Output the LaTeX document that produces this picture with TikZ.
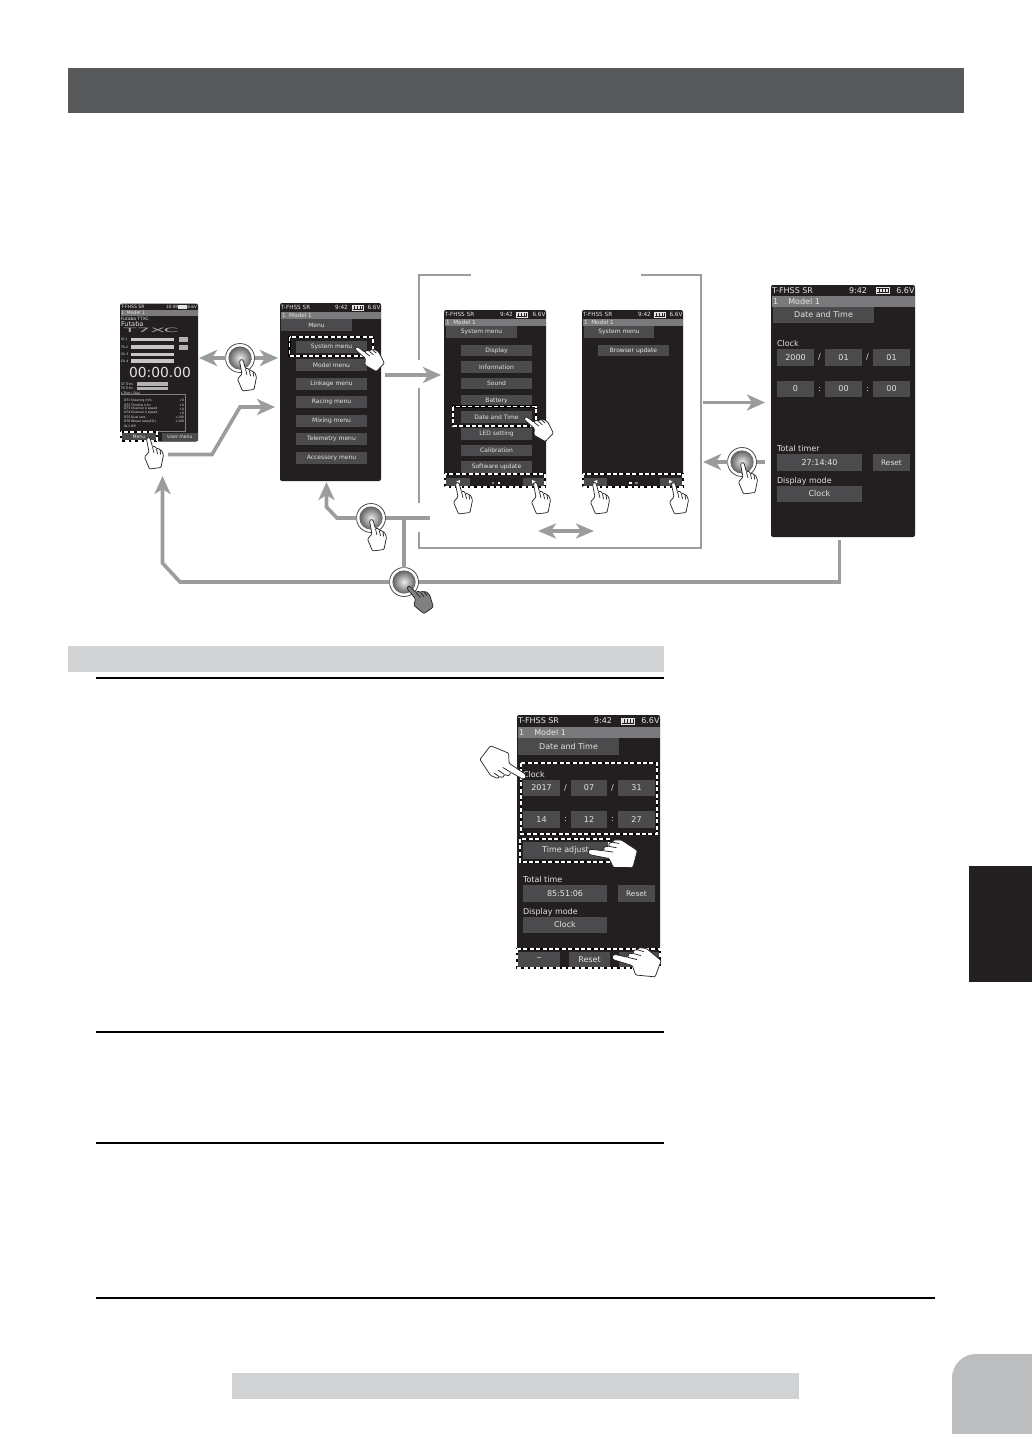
\documentclass[tikz,border=0pt]{standalone}
\usepackage{fontspec}
\setmainfont{DejaVu Sans}
\usetikzlibrary{arrows.meta,calc}
\definecolor{ink}{HTML}{231F20}
\definecolor{barcol}{HTML}{58595B}
\definecolor{light}{HTML}{D1D2D4}
\definecolor{tabgray}{HTML}{BBBDBE}
\definecolor{conn}{HTML}{9B9C9E}
\definecolor{band}{HTML}{7A7A7C}
\definecolor{btncol}{HTML}{4B4B4D}
\definecolor{txt}{HTML}{E4E4E4}
\newcount\autoid
\tikzset{
  x=1pt,y=-1pt,
  screenbox/.style={draw=none,fill=ink,rounded corners=2pt,inner sep=0pt,outer sep=0pt,anchor=north west},
  btnbox/.style={fill=btncol,draw=none,inner sep=0pt,outer sep=0pt,text=txt,align=center},
  lbltext/.style={inner sep=0pt,outer sep=0pt,text=txt},
  thick arrow/.style={draw=conn,line width=3.6pt,-{Stealth[length=18pt,width=16pt,inset=5pt]},line join=miter},
  thick double/.style={draw=conn,line width=3.6pt,{Stealth[length=18pt,width=15pt,inset=5pt]}-{Stealth[length=18pt,width=15pt,inset=5pt]}},
  thick line/.style={draw=conn,line width=3.6pt},
  frame line/.style={draw=conn,line width=1.8pt},
  orbnode/.style={circle,draw=black!70,line width=.8pt,fill=white,minimum size=29pt,inner sep=0pt,outer sep=0pt},
  handline/.style={draw=ink,line width=.7pt,line join=round},
  dash under/.style={draw=black,line width=2.4pt},
  dash over/.style={draw=white,line width=1.7pt,dash pattern=on 4pt off 2.4pt},
}
% auto-named button: x0 y0 x1 y1 size text
\newcommand{\bt}[6]{%
  \global\advance\autoid by 1
  \pgfmathsetmacro{\cxx}{(#1+#3)/2}\pgfmathsetmacro{\cyy}{(#2+#4)/2}%
  \pgfmathsetmacro{\ww}{#3-#1}\pgfmathsetmacro{\hh}{#4-#2}%
  \node[btnbox,minimum width=\ww pt,minimum height=\hh pt,font=\fontsize{#5}{#5}\selectfont] (auto\the\autoid) at (\cxx,\cyy) {#6};}
% auto-named label: x y anchor size text
\newcommand{\lb}[5]{%
  \global\advance\autoid by 1
  \node[lbltext,anchor=#3,font=\fontsize{#4}{#4}\selectfont] (auto\the\autoid) at (#1,#2) {#5};}
\newcommand{\hand}[5]{% tipx tipy rot scale fill
  \begin{scope}[shift={(#1,#2)},rotate=#3,scale=#4]
    \path[handline,fill=#5,rounded corners=1.1pt] (2,0) -- (4.5,9) -- (7,8) -- (8.5,11) -- (10.5,10) -- (12,12.5) -- (13.5,12)
      -- (15.5,17) -- (13,29.5) -- (1.5,31) -- (-3.5,19) -- (1,14) -- (-1.5,1) -- (0,-.8) -- cycle;
    \draw[handline] (4.5,9) -- (6,15) (8.5,11) -- (9.5,16) (12,12.5) -- (12.8,16.5);
  \end{scope}}
\newcommand{\dbox}[4]{%
  \draw[dash under] (#1,#2) rectangle (#3,#4);
  \draw[dash over] (#1,#2) rectangle (#3,#4);}
\newcommand{\batt}[4]{% x y w h
  \draw[txt,line width=.5pt] (#1,#2) rectangle ++(#3,#4);
  \fill[txt] (#1,#2) ++(#3,{#4*.25}) rectangle ++(.8,{#4*.5});
  \foreach \i in {1,...,4}{\fill[txt] ($(#1,#2)+({#3*(\i-.5)/4-.07*#3},{#4*.18})$) rectangle ++({.14*#3},{#4*.64});}}
\newcommand{\orbshade}[1]{\shade[inner color=gray!15,outer color=black!62] (#1.center) circle (11.6);}
\begin{document}
\begin{tikzpicture}
\useasboundingbox[fill=white] (0,0) rectangle (1032,1434);
% page furniture
\fill[barcol] (68,68) rectangle (964,113);
\fill[light] (68,646) rectangle (664,672);
\draw[black,line width=1.5pt] (96,678) -- (664,678) (96,1032) -- (664,1032) (96,1143) -- (664,1143);
\draw[black,line width=1.5pt] (96,1298) -- (935,1298);
\fill[ink] (969,866) rectangle (1032,982);
\fill[light] (232,1373) rectangle (799,1399);
\fill[tabgray,rounded corners=24pt] (1060,1470) -- (952,1470) -- (952,1354) -- (1060,1354) -- cycle;

% frame round the System menu pages
\draw[frame line] (471,275) -- (419,275) -- (419,360);
\draw[frame line] (419,388) -- (419,503);
\draw[frame line] (419,532) -- (419,548) -- (701,548) -- (701,275) -- (641,275);

% ---------- S1 home
\node[screenbox,minimum width=78pt,minimum height=138pt] (s1) at (120,303.5) {};
\lb{121}{306.5}{west}{4.6}{T-FHSS SR}
\lb{197}{306.5}{east}{4.2}{10:59 \ \ \ \ \ \ 6.6V}
\batt{178}{304.8}{8}{3.4}
\fill[band] (120.5,309.5) rectangle (197.5,315.5);
\lb{121}{312.5}{west}{4.6}{1 \ Model 1}
\lb{121}{318.6}{west}{4.4}{Futaba T7XC}
\lb{121}{324}{west}{6.6}{Futaba}
\global\advance\autoid by 1
\node[lbltext,text=gray!70,font=\fontsize{6}{6}\selectfont,xscale=3.6] (auto\the\autoid) at (151,330.5) {T7XC};
\foreach \yy/\nm in {339.5/St.1,347/Th.2,354.5/Ch.3,361/Ch.4}{
  \fill[gray!45] (131,\yy-1.6) rectangle (174,\yy+1.6);
  \lb{121}{\yy}{west}{3.2}{\nm}
}
\fill[gray!60] (178.5,337) rectangle (188,342);
\fill[gray!60] (178.5,344.5) rectangle (188,349.5);
\lb{160}{372}{center}{13.8}{00:00.00}
\lb{121}{384}{west}{3.2}{ST Trim}
\lb{121}{388.5}{west}{3.2}{Th Trim}
\fill[gray!60] (137,382.2) rectangle (168,385.8);
\fill[gray!60] (137,386.8) rectangle (168,390.4);
\lb{121}{393.5}{west}{3.2}{L-Trim / Dial}
\draw[gray,line width=.5pt] (121,394.5) -- (185,394.5) -- (185,431) -- (121,431);
\foreach \yy/\ttx/\vv in {400.5/DT1 Steering trim/+0,405/DT2 Throttle trim/+0,409/DT3 Channel 4 speed/+0,413/DT4 Channel 4 speed/+0,417.5/DT5 Dual rate/+100,421.5/DT6 Wheel rate(ATL)/+100}{
  \lb{124}{\yy}{west}{3.1}{\ttx}
  \lb{184}{\yy}{east}{3.1}{\vv}
}
\lb{124}{426}{west}{3.1}{DL1 Off}
\bt{121}{433}{157}{441}{4.6}{Menu}
\bt{162}{433}{198}{441}{4.6}{User menu}
\dbox{121}{432}{157}{441}

% ---------- S2 menu
\node[screenbox,minimum width=101pt,minimum height=178pt] (s2) at (280,303) {};
\lb{281}{307.5}{west}{5.7}{T-FHSS SR}
\lb{335}{307.5}{west}{5.7}{9:42}
\batt{352}{305.3}{11}{4.5}
\lb{380.5}{307.5}{east}{5.7}{6.6V}
\fill[band] (280.5,312) rectangle (380.5,319);
\lb{282}{315}{west}{5.7}{1 \ Model 1}
\bt{281}{319}{352}{331}{6}{Menu}
\bt{296}{341}{367}{353}{6}{System menu}
\bt{296}{359}{367}{371}{6}{Model menu}
\bt{296}{378}{367}{390}{6}{Linkage menu}
\bt{296}{396}{367}{408}{6}{Racing menu}
\bt{296}{415}{367}{427}{6}{Mixing menu}
\bt{296}{433}{367}{445}{6}{Telemetry menu}
\bt{296}{452}{367}{464}{6}{Accessory menu}
\dbox{289.5}{337}{373}{356}

% ---------- S3, S4 system menu
\node[screenbox,minimum width=102pt,minimum height=177pt] (s3) at (444,310) {};
\lb{445}{314.5}{west}{5.7}{T-FHSS SR}
\lb{500}{314.5}{west}{5.7}{9:42}
\batt{516}{312.3}{11}{4.5}
\lb{545.5}{314.5}{east}{5.7}{6.6V}
\fill[band] (444.5,319) rectangle (545.5,325.5);
\lb{446}{322}{west}{5.7}{1 \ Model 1}
\bt{446}{326}{517}{338}{6}{System menu}
\bt{461}{345}{532}{356}{6}{Display}
\bt{461}{361}{532}{373}{6}{Information}
\bt{461}{378}{532}{389}{6}{Sound}
\bt{461}{395}{532}{406}{6}{Battery}
\bt{461}{411}{532}{423}{6}{Date and Time}
\bt{461}{428}{532}{440}{6}{LED setting}
\bt{461}{445}{532}{456}{6}{Calibration}
\bt{461}{461}{532}{473}{6}{Software update}
\bt{446}{478}{470}{487}{5}{\textcolor{white}{◀}}
\bt{523}{478}{545}{487}{5}{\textcolor{white}{▶}}
\fill[gray] (491.5,481.5) rectangle (494,484);
\fill[white] (497.5,481.5) rectangle (500,484);
\dbox{453}{406.5}{536}{426}
\dbox{445}{474}{545}{487}

\node[screenbox,minimum width=101pt,minimum height=177pt] (s4) at (582,310) {};
\lb{583}{314.5}{west}{5.7}{T-FHSS SR}
\lb{638}{314.5}{west}{5.7}{9:42}
\batt{654}{312.3}{11}{4.5}
\lb{682.5}{314.5}{east}{5.7}{6.6V}
\fill[band] (582.5,319) rectangle (682.5,325.5);
\lb{584}{322}{west}{5.7}{1 \ Model 1}
\bt{584}{326}{654}{338}{6}{System menu}
\bt{598}{345}{669}{356}{6}{Browser update}
\bt{584}{478}{607}{487}{5}{\textcolor{white}{◀}}
\bt{660}{478}{682}{487}{5}{\textcolor{white}{▶}}
\fill[white] (629,481.5) rectangle (631.5,484);
\fill[gray] (635,481.5) rectangle (637.5,484);
\dbox{583}{474}{683}{487}

% ---------- S5 date and time
\node[screenbox,minimum width=144pt,minimum height=252pt] (s5) at (771,285) {};
\lb{772}{290.5}{west}{8}{T-FHSS SR}
\lb{849}{290.5}{west}{8}{9:42}
\batt{876}{287.5}{13}{6}
\lb{914.5}{290.5}{east}{8}{6.6V}
\fill[band] (771.5,296) rectangle (914.5,307);
\lb{773}{301.5}{west}{8}{1 \ \ \ Model 1}
\bt{773}{307}{874}{323}{8}{Date and Time}
\lb{777}{344}{west}{8}{Clock}
\bt{777}{349}{814}{366}{8}{2000}
\bt{825}{349}{862}{366}{8}{01}
\bt{873}{349}{910}{366}{8}{01}
\lb{819.5}{357}{center}{8}{/}
\lb{867.5}{357}{center}{8}{/}
\bt{777}{381}{814}{397}{8}{0}
\bt{825}{381}{862}{397}{8}{00}
\bt{873}{381}{910}{397}{8}{00}
\lb{819.5}{389}{center}{8}{:}
\lb{867.5}{389}{center}{8}{:}
\lb{777}{449}{west}{8}{Total timer}
\bt{777}{454}{862}{471}{8}{27:14:40}
\bt{873}{454}{910}{471}{7.4}{Reset}
\lb{777}{481}{west}{8}{Display mode}
\bt{777}{486}{862}{502}{8}{Clock}

% ---------- S6 lower screen
\node[screenbox,minimum width=143pt,minimum height=253pt] (s6) at (517,715) {};
\lb{518}{721}{west}{8}{T-FHSS SR}
\lb{594}{721}{west}{8}{9:42}
\batt{621}{718}{13}{6}
\lb{659.5}{721}{east}{8}{6.6V}
\fill[band] (517.5,727) rectangle (659.5,738);
\lb{519}{732.5}{west}{8}{1 \ \ \ Model 1}
\bt{518}{738}{619}{755}{8}{Date and Time}
\lb{523}{775}{west}{8}{Clock}
\bt{523}{780}{560}{796}{8}{2017}
\bt{571}{780}{607}{796}{8}{07}
\bt{618}{780}{655}{796}{8}{31}
\lb{565.5}{788}{center}{8}{/}
\lb{612.5}{788}{center}{8}{/}
\bt{523}{811}{560}{828}{8}{14}
\bt{571}{811}{607}{828}{8}{12}
\bt{618}{811}{655}{828}{8}{27}
\lb{565.5}{819}{center}{8}{:}
\lb{612.5}{819}{center}{8}{:}
\bt{523}{842}{608}{859}{8}{Time adjust}
\lb{523}{880}{west}{8}{Total time}
\bt{523}{885}{607}{902}{8}{85:51:06}
\bt{618}{885}{655}{902}{7.4}{Reset}
\lb{523}{912}{west}{8}{Display mode}
\bt{523}{917}{607}{933}{8}{Clock}
\bt{518}{952}{560}{967}{9}{–}
\bt{569}{952}{610}{967}{8}{Reset}
\bt{619}{952}{660}{967}{8}{}
\dbox{521}{763}{657}{834}
\dbox{520}{839}{609}{862}
\dbox{517}{949}{660}{968}

% ---------- orbs
\node[orbnode] (o1) at (240,358) {};  \orbshade{o1}
\node[orbnode] (o3) at (371,518) {};  \orbshade{o3}
\node[orbnode] (o5) at (404,582) {};  \orbshade{o5}
\node[orbnode] (o4) at (742,462) {};  \orbshade{o4}

% ---------- connectors
\coordinate (a1) at (168,454.5);
\coordinate (a2) at (212,454.5);
\coordinate (a3) at (240,407);
\coordinate (a4) at (275,407);
\draw[thick arrow] (a1) -- (a2) -- (a3) -- (a4);
\draw[thick arrow,shorten >=1pt] (o1.west) -- (s1.east |- o1.west);
\draw[thick arrow,shorten >=2pt] (o1.east) -- (s2.west |- o1.east);
\coordinate (b1) at (385,375);
\coordinate (b2) at (441,375);
\draw[thick arrow] (b1) -- (b2);
\coordinate (c1) at (703,402.5);
\coordinate (c2) at (765,402.5);
\draw[thick arrow] (c1) -- (c2);
\coordinate (d1) at (703,462);
\draw[thick arrow] (o4.west) -- (d1);
\coordinate (d2) at (765,462);
\draw[thick line] (o4.east) -- (d2);
\coordinate (e1) at (430,518);
\draw[thick line] (o3.east) -- (e1);
\draw[thick line] (o5.north) -- (o5.north |- e1);
\coordinate (f1) at (337,518);
\coordinate (f2) at (326.5,507);
\coordinate (f3) at (326.5,482);
\draw[thick arrow] (o3.west) -- (f1) -- (f2) -- (f3);
\coordinate (g1) at (839.5,540);
\coordinate (g2) at (839.5,582);
\draw[thick line,line join=miter] (g1) -- (g2) -- (o5.east);
\coordinate (h1) at (180,582);
\coordinate (h2) at (162.5,563);
\coordinate (h3) at (162.5,476);
\draw[thick arrow] (o5.west) -- (h1) -- (h2) -- (h3);
\coordinate (k1) at (538,531);
\coordinate (k2) at (594,531);
\draw[thick double] (k1) -- (k2);

% ---------- hands
\hand{148}{438}{0}{1}{white}
\hand{241}{360}{0}{1}{white}
\hand{356}{348}{38}{1}{white}
\hand{457}{483}{0}{1}{white}
\hand{535}{483}{0}{1}{white}
\hand{594}{483}{0}{1}{white}
\hand{673}{483}{0}{1}{white}
\hand{525}{418}{38}{1}{white}
\hand{371}{520}{0}{1}{white}
\hand{408}{587}{28}{1}{gray}
\hand{742}{463}{0}{1}{white}
\hand{525}{777}{-135}{1.5}{white}
\hand{589}{852}{68}{1.5}{white}
\hand{613}{957}{62}{1.5}{white}
\end{tikzpicture}
\end{document}
